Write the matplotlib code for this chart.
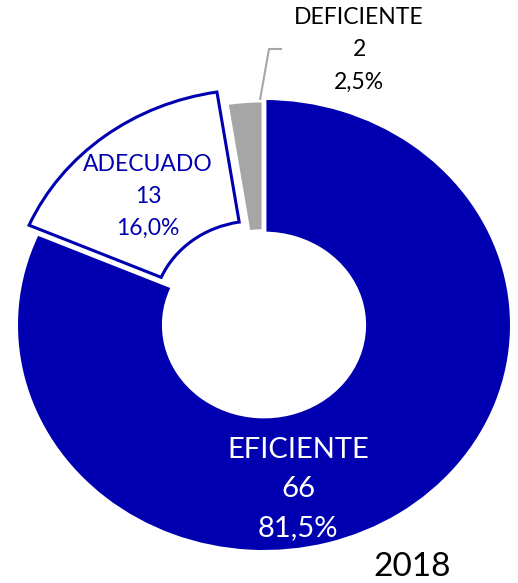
import matplotlib
matplotlib.use("Agg")
import matplotlib.pyplot as plt

# Data
categories = ["EFICIENTE", "ADECUADO", "DEFICIENTE"]
counts = [66, 13, 2]
year_label = "2018"

BLUE = "#0000B0"
GRAY = "#A6A6A6"

plt.rcParams["font.family"] = ["Lato", "DejaVu Sans"]

W, H = 518, 583
fig = plt.figure(figsize=(W / 100, H / 100), dpi=100)
ax = fig.add_axes([0, 0, 1, 1])

# pixel geometry of the ring
cx, cy = 264, 325          # centre (px from left / top)
rx, ry = 246, 225          # horizontal / vertical pixels per unit radius


def px(x, y):
    """Convert pixel position (from top-left) to data coordinates."""
    return (x - cx) / rx, (cy - y) / ry


wedges, _ = ax.pie(
    counts,
    startangle=90,
    counterclock=False,
    radius=1.0,
    explode=[0, 0.06, 0],
    colors=[BLUE, "white", GRAY],
    wedgeprops=dict(width=0.585),
)
wedges[0].set_edgecolor("none")
wedges[1].set_edgecolor(BLUE)
wedges[1].set_linewidth(2.2)
wedges[2].set_edgecolor("white")
wedges[2].set_linewidth(3.5)

ax.set_aspect("auto")
ax.set_xlim(-cx / rx, (W - cx) / rx)
ax.set_ylim((cy - H) / ry, cy / ry)
ax.axis("off")

total = sum(counts)


def pct(v):
    return f"{v / total * 100:.1f}".replace(".", ",") + "%"


def label(lines, centre_x, first_y, step, size, color):
    for i, s in enumerate(lines):
        x, y = px(centre_x, first_y + i * step)
        ax.text(x, y, s, ha="center", va="center", fontsize=size, color=color)


label([categories[0], str(counts[0]), pct(counts[0])], 298, 450, 39, 21, "white")
label([categories[1], str(counts[1]), pct(counts[1])], 148, 165, 31.5, 16.5, BLUE)
label([categories[2], str(counts[2]), pct(counts[2])], 359, 18, 32, 16.5, "black")

# leader line for the small slice
lx, ly = zip(px(260, 100), px(269, 49), px(282, 49))
ax.plot(lx, ly, color=GRAY, lw=1.5, solid_capstyle="butt")

x, y = px(412, 567)
ax.text(x, y, year_label, ha="center", va="center", fontsize=24, color="black")

fig.savefig("out.png", dpi=100)
